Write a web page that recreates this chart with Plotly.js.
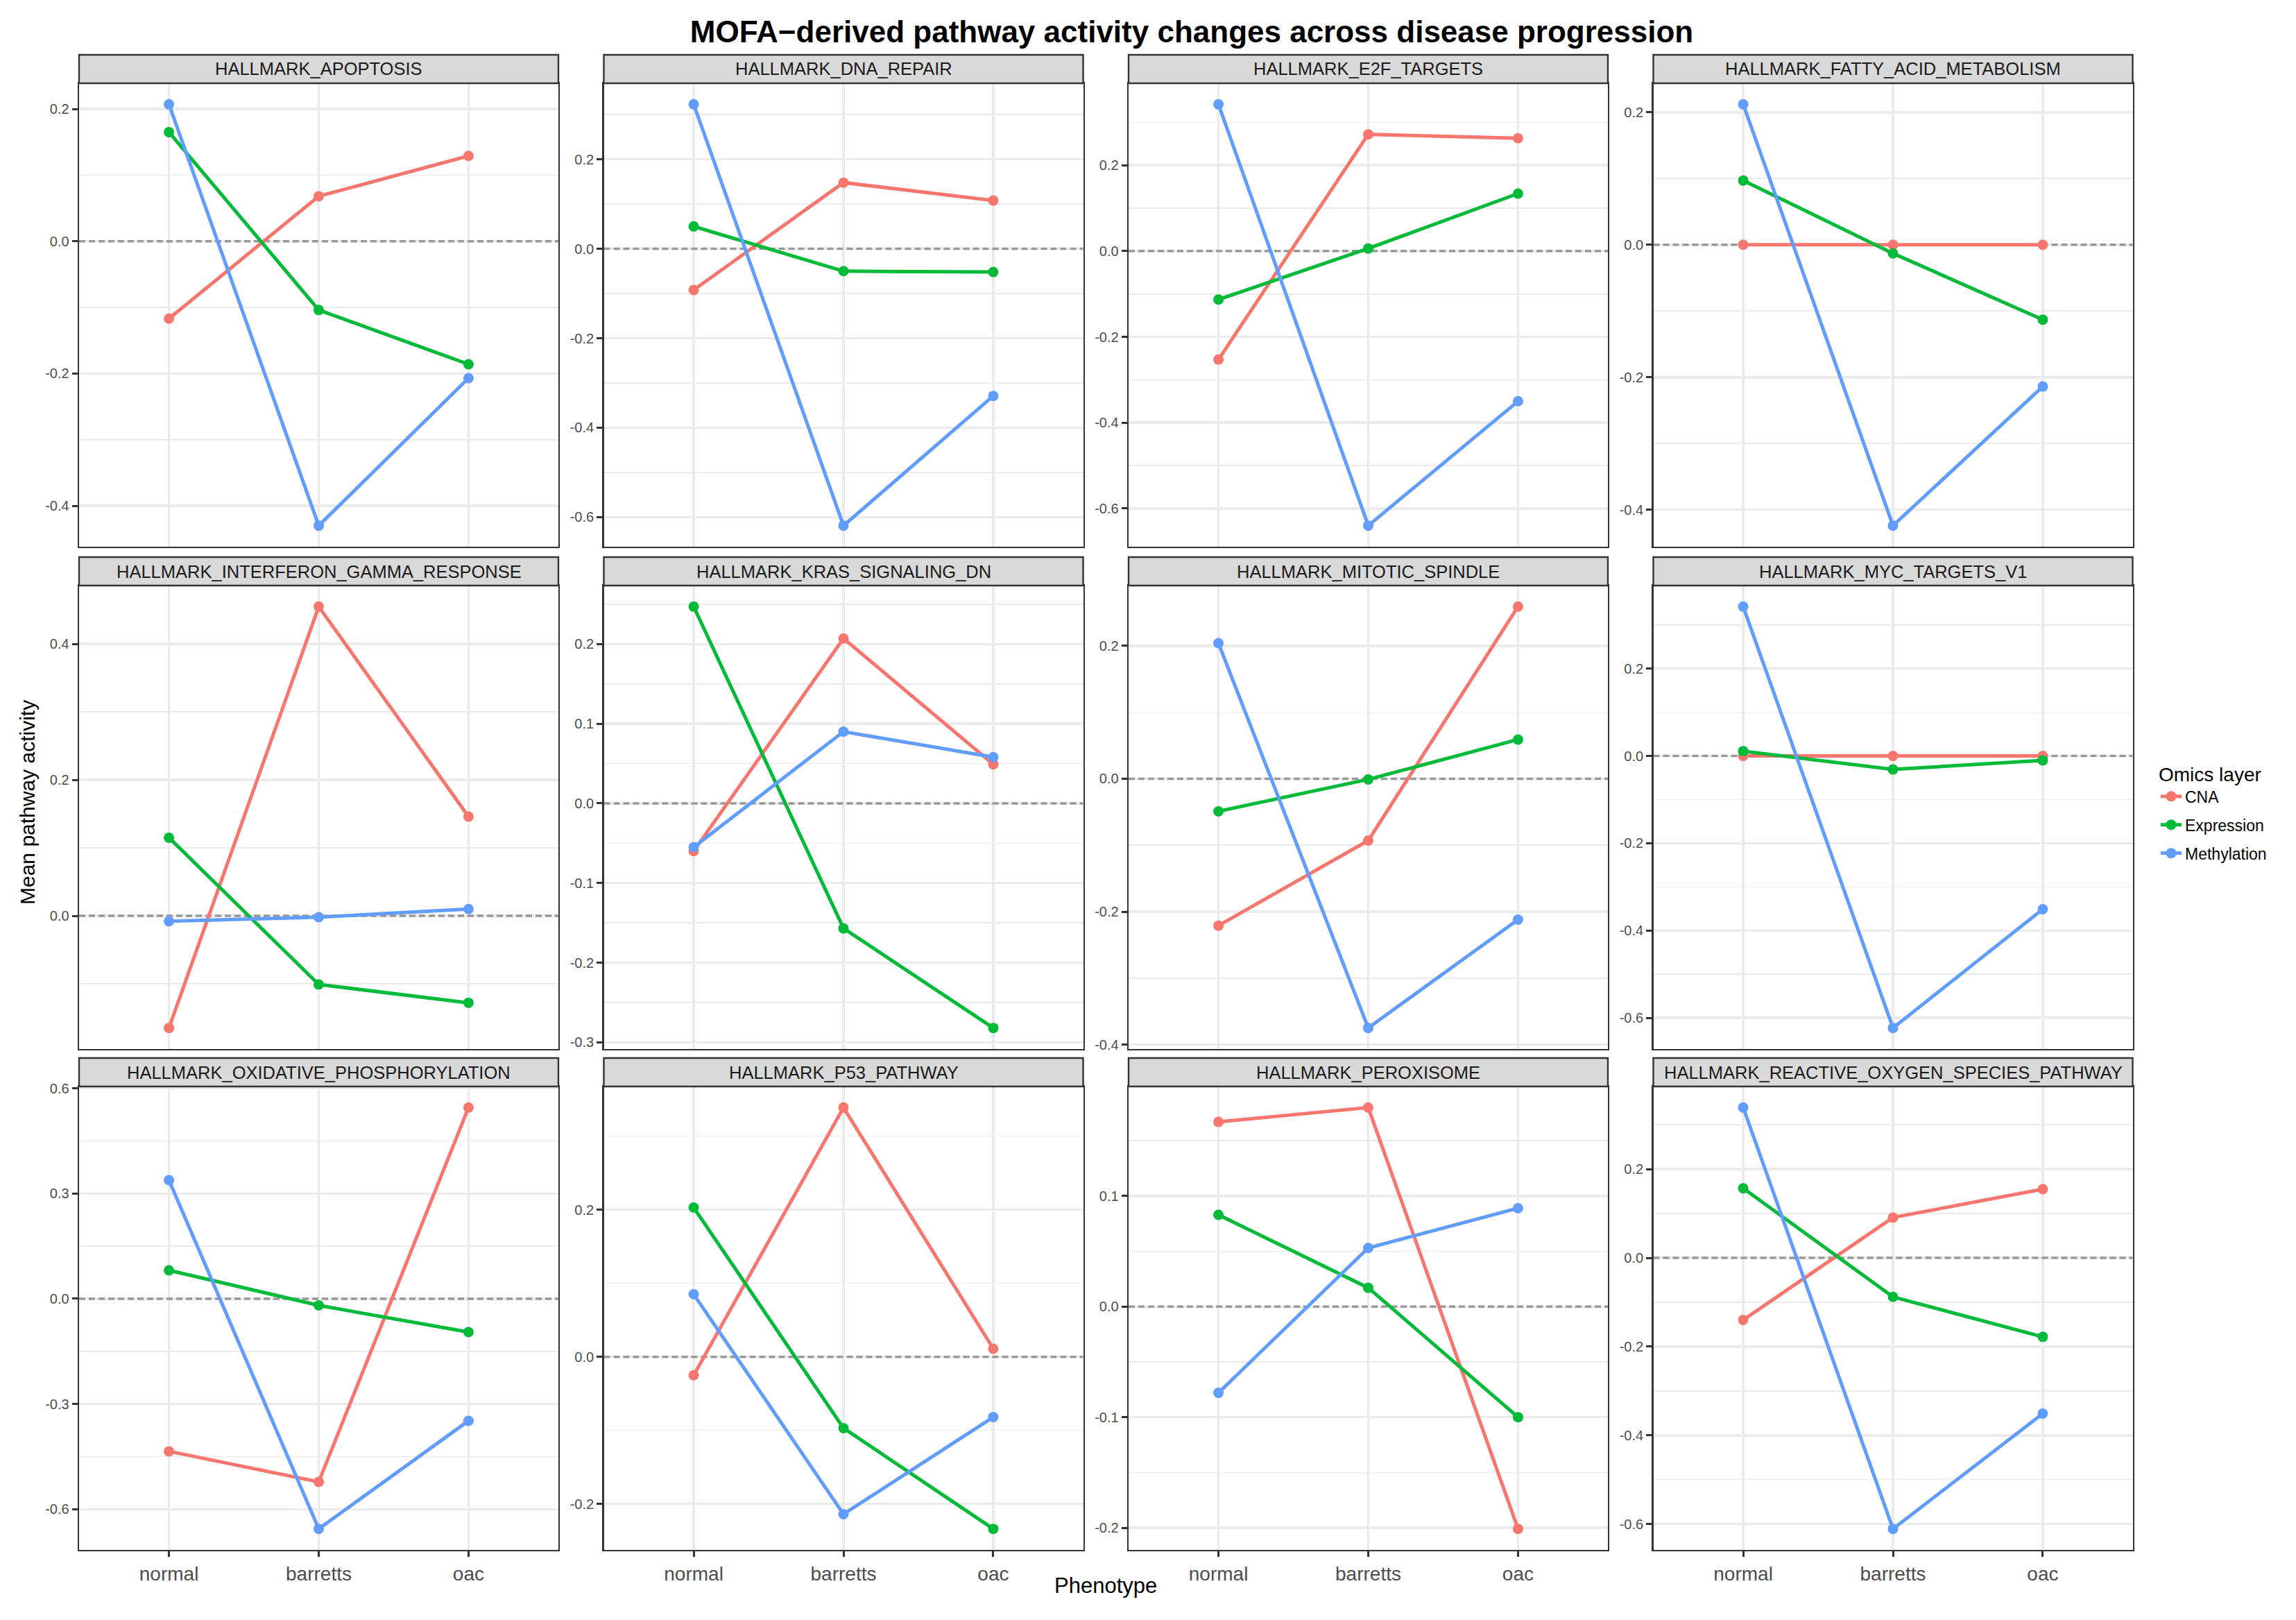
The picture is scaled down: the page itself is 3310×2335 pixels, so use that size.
<!DOCTYPE html>
<html>
<head>
<meta charset="utf-8">
<script src="https://cdn.plot.ly/plotly-3.0.1.min.js"></script>
<style>
  body { margin: 0; background: #fff; }
  #graph { width: 3310px; height: 2335px; }
</style>
</head>
<body>
<div id="graph"></div>
<script>
// values, one triple (normal, barretts, oac) per pathway

const phenotypes = ['normal', 'barretts', 'oac'];

const pathways = [
    'HALLMARK_APOPTOSIS', 'HALLMARK_DNA_REPAIR', 'HALLMARK_E2F_TARGETS', 'HALLMARK_FATTY_ACID_METABOLISM',
    'HALLMARK_INTERFERON_GAMMA_RESPONSE', 'HALLMARK_KRAS_SIGNALING_DN', 'HALLMARK_MITOTIC_SPINDLE', 'HALLMARK_MYC_TARGETS_V1',
    'HALLMARK_OXIDATIVE_PHOSPHORYLATION', 'HALLMARK_P53_PATHWAY', 'HALLMARK_PEROXISOME', 'HALLMARK_REACTIVE_OXYGEN_SPECIES_PATHWAY'
];

const cna = [
    [-0.117, 0.068, 0.129],
    [-0.092, 0.148, 0.108],
    [-0.253, 0.272, 0.263],
    [0, 0, 0],
    [-0.165, 0.455, 0.146],
    [-0.060, 0.207, 0.049],
    [-0.221, -0.093, 0.259],
    [0, 0, 0],
    [-0.435, -0.522, 0.545],
    [-0.025, 0.339, 0.011],
    [0.167, 0.180, -0.201],
    [-0.140, 0.091, 0.155]
];

const expression = [
    [0.165, -0.104, -0.186],
    [0.050, -0.050, -0.052],
    [-0.113, 0.006, 0.134],
    [0.097, -0.013, -0.113],
    [0.115, -0.101, -0.128],
    [0.247, -0.157, -0.282],
    [-0.049, -0.001, 0.059],
    [0.011, -0.031, -0.010],
    [0.081, -0.019, -0.095],
    [0.203, -0.097, -0.234],
    [0.083, 0.017, -0.100],
    [0.157, -0.088, -0.178]
];

const methylation = [
    [0.207, -0.430, -0.207],
    [0.323, -0.619, -0.329],
    [0.342, -0.640, -0.350],
    [0.212, -0.424, -0.214],
    [-0.008, -0.002, 0.010],
    [-0.055, 0.090, 0.058],
    [0.204, -0.375, -0.212],
    [0.342, -0.623, -0.351],
    [0.338, -0.656, -0.348],
    [0.085, -0.214, -0.082],
    [-0.078, 0.053, 0.089],
    [0.339, -0.611, -0.351]
];

const layerNames = ['CNA', 'Expression', 'Methylation'];
const layerColors = ['#F8766D', '#00BA38', '#619CFF'];

// y break step per panel
const tickStep = [0.2, 0.2, 0.2, 0.2, 0.2, 0.1, 0.2, 0.2, 0.3, 0.2, 0.1, 0.2];

// page geometry in pixels
const W = 3310, H = 2335;
const colLeft = [114, 870.5, 1627, 2383.5];
const rowTop = [120, 844, 1566];
const panelW = 691, panelH = 668, stripH = 41;
const font = 'Liberation Sans, Arial, sans-serif';
const gridCol = '#EBEBEB';
const frameCol = '#333333';

function px(x) { return x / W; }
function py(y) { return 1 - y / H; }
function fmt(v) {
    const r = Math.round(v * 10) / 10;
    return (r === 0 ? 0 : r).toFixed(1);
}

// discrete x positions like ggplot: 0..n-1, padded by 0.6
const xPos = phenotypes.map(function (_, i) { return i; });
const xRange = [-0.6, phenotypes.length - 1 + 0.6];

const series = [cna, expression, methylation];
const data = [];
const layout = {
    width: W,
    height: H,
    margin: {l: 0, r: 0, t: 0, b: 0},
    paper_bgcolor: '#fff',
    plot_bgcolor: '#fff',
    font: {family: font, color: '#000'},
    title: {
        text: '<b>MOFA\u2212derived pathway activity changes across disease progression</b>',
        x: px(1718), xanchor: 'center',
        y: py(46), yanchor: 'middle',
        font: {family: font, size: 44, color: '#000'}
    },
    showlegend: true,
    legend: {
        x: px(3110), xanchor: 'left',
        y: py(1090), yanchor: 'top',
        bgcolor: 'rgba(0,0,0,0)',
        font: {family: font, size: 23, color: '#000'},
        title: {text: 'Omics layer', font: {family: font, size: 28, color: '#000'}},
        tracegroupgap: 8,
        itemwidth: 30
    },
    shapes: [],
    annotations: []
};

pathways.forEach(function (name, p) {
    const row = Math.floor(p / 4);
    const col = p % 4;
    const suf = p === 0 ? '' : String(p + 1);
    const left = colLeft[col];
    const top = rowTop[row];

    // y range: data range with 5% padding on each side
    let vals = [0];
    series.forEach(function (s) { vals = vals.concat(s[p]); });
    const lo = Math.min.apply(null, vals);
    const hi = Math.max.apply(null, vals);
    const pad = (hi - lo) * 0.05;
    const yr = [lo - pad, hi + pad];

    const step = tickStep[p];
    const major = [], minor = [];
    for (let k = Math.ceil(yr[0] / step - 1e-9); k * step <= yr[1] + 1e-9; k++) major.push(k * step);
    for (let k = Math.floor(yr[0] / step); k * step <= yr[1]; k++) {
        const m = (k + 0.5) * step;
        if (m >= yr[0] && m <= yr[1]) minor.push(m);
    }

    const bottomRow = row === 2;

    layout['xaxis' + suf] = {
        domain: [px(left), px(left + panelW)],
        anchor: 'y' + suf,
        range: xRange,
        tickmode: 'array',
        tickvals: xPos,
        ticktext: phenotypes,
        showgrid: true, gridcolor: gridCol, gridwidth: 3.5,
        zeroline: false,
        showline: true, mirror: true, linecolor: frameCol, linewidth: 2.4,
        ticks: bottomRow ? 'outside' : '',
        ticklen: 8, tickwidth: 3, tickcolor: frameCol,
        showticklabels: bottomRow,
        tickfont: {family: font, size: 28, color: '#4D4D4D'},
        fixedrange: true
    };

    layout['yaxis' + suf] = {
        domain: [py(top + panelH), py(top)],
        anchor: 'x' + suf,
        range: yr,
        tickmode: 'array',
        tickvals: major,
        ticktext: major.map(fmt),
        showgrid: true, gridcolor: gridCol, gridwidth: 3.5,
        minor: {tickmode: 'array', tickvals: minor, showgrid: true, gridcolor: gridCol, gridwidth: 1.6, ticks: ''},
        zeroline: false,
        showline: true, mirror: true, linecolor: frameCol, linewidth: 2.4,
        ticks: 'outside', ticklen: 8, tickwidth: 3, tickcolor: frameCol,
        tickfont: {family: font, size: 20, color: '#4D4D4D'},
        fixedrange: true
    };

    // facet strip
    layout.shapes.push({
        type: 'rect', xref: 'paper', yref: 'paper',
        x0: px(left), x1: px(left + panelW),
        y0: py(top), y1: py(top - stripH),
        fillcolor: '#D9D9D9',
        line: {color: frameCol, width: 2.4}
    });
    layout.annotations.push({
        text: name, xref: 'paper', yref: 'paper',
        x: px(left + panelW / 2), y: py(top - stripH / 2),
        xanchor: 'center', yanchor: 'middle', showarrow: false,
        font: {family: font, size: 25.5, color: '#1A1A1A'}
    });

    // dashed reference line at zero, drawn under the series
    data.push({
        x: xRange,
        y: [0, 0],
        xaxis: 'x' + suf,
        yaxis: 'y' + suf,
        type: 'scatter',
        mode: 'lines',
        showlegend: false,
        line: {color: '#999999', width: 3.5, dash: '9px,5px'},
        hoverinfo: 'skip'
    });

    series.forEach(function (s, i) {
        data.push({
            x: xPos,
            y: s[p],
            xaxis: 'x' + suf,
            yaxis: 'y' + suf,
            type: 'scatter',
            mode: 'lines+markers',
            name: layerNames[i],
            legendgroup: layerNames[i],
            showlegend: p === 0,
            line: {color: layerColors[i], width: 5},
            marker: {color: layerColors[i], size: 15, line: {width: 0}},
            cliponaxis: false,
            hoverinfo: 'skip'
        });
    });
});

layout.annotations.push({
    text: 'Phenotype', xref: 'paper', yref: 'paper',
    x: px(1594), y: py(2285), xanchor: 'center', yanchor: 'middle',
    showarrow: false, font: {family: font, size: 31, color: '#000'}
});
layout.annotations.push({
    text: 'Mean pathway activity', xref: 'paper', yref: 'paper',
    x: px(39), y: py(1157), xanchor: 'center', yanchor: 'middle',
    textangle: -90, showarrow: false, font: {family: font, size: 30, color: '#000'}
});

Plotly.newPlot('graph', data, layout, {displayModeBar: false, staticPlot: true});
</script>
</body>
</html>
